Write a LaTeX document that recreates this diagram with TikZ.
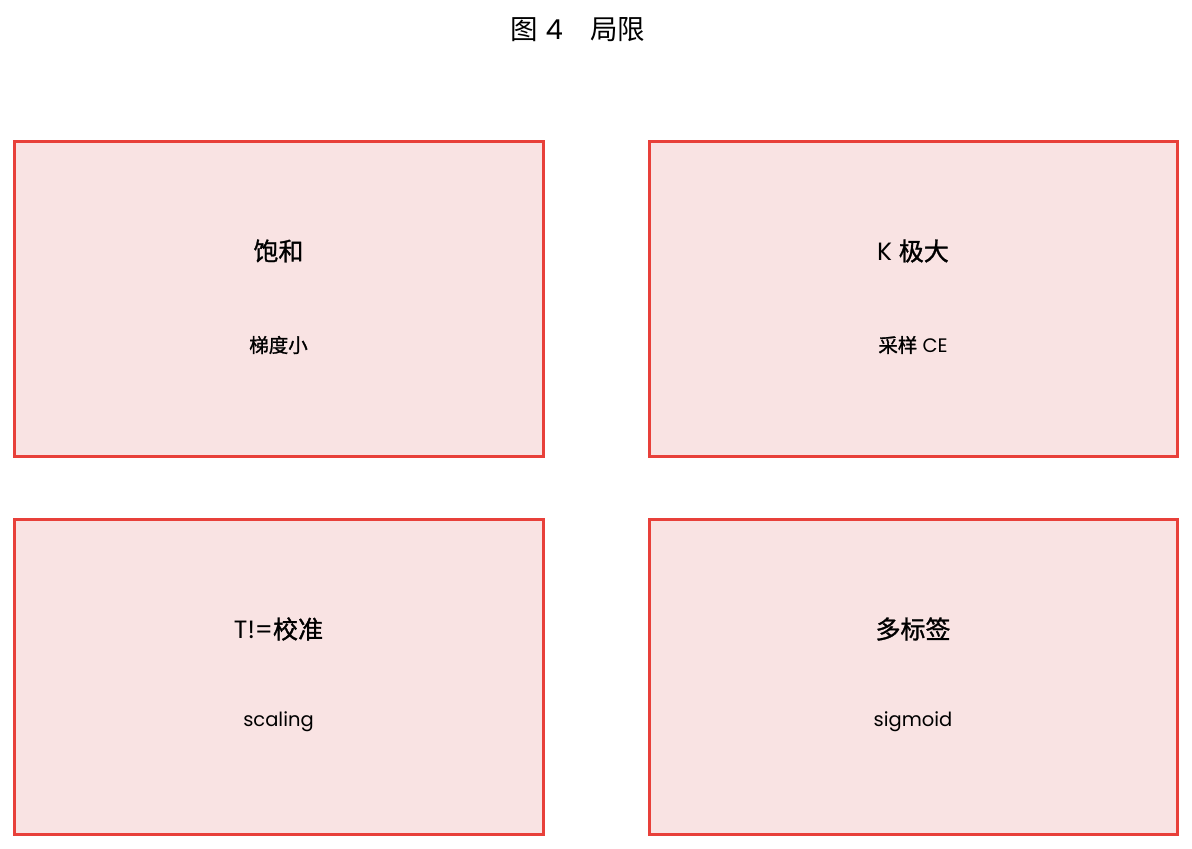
\documentclass[tikz,border=0pt]{standalone}
\usepackage{fontspec}
\setmainfont{Poppins}
\newfontfamily\cjk[FakeBold=1.2]{Noto Sans CJK SC}
\newfontfamily\cjktitle{Noto Sans CJK SC}
\definecolor{limred}{RGB}{232,64,58}
\definecolor{limfill}{RGB}{249,227,227}

\begin{document}
\begin{tikzpicture}[x=1pt,y=-1pt,
    panel/.style={draw=limred, fill=limfill, line width=3pt},
    headtext/.style={font=\fontsize{25}{28}\selectfont, anchor=center, inner sep=0},
    subtext/.style={font=\fontsize{19.5}{22}\selectfont, anchor=center, inner sep=0}]
                \useasboundingbox (0,0) rectangle (1192,849);

                % Title
                \node[font=\fontsize{27.5}{31}\selectfont, inner sep=0] (title) at (578,30) {{\cjktitle 图} 4\hspace{1em}{\cjktitle 局限}};

                % Draw panels
                \draw[panel] (14,141) rectangle (543,456);
                \draw[panel] (649,141) rectangle (1177,456);
                \draw[panel] (14,519) rectangle (543,834);
                \draw[panel] (649,519) rectangle (1177,834);

                % Panel texts
                \node[headtext] (satur) at (278.5,251) {\cjk 饱和};
                \node[subtext] (saturnote) at (278.5,345) {\cjk 梯度小};
                \node[headtext] (bigk) at (913,251) {K {\cjk 极大}};
                \node[subtext] (bigknote) at (913,345) {{\cjk 采样} CE};
                \node[headtext] (calib) at (278.5,629) {T!={\cjk 校准}};
                \node[subtext] (calibnote) at (278.5,722) {scaling};
                \node[headtext] (multi) at (913,629) {\cjk 多标签};
                \node[subtext] (multinote) at (913,722) {sigmoid};
            \end{tikzpicture}
\end{document}
